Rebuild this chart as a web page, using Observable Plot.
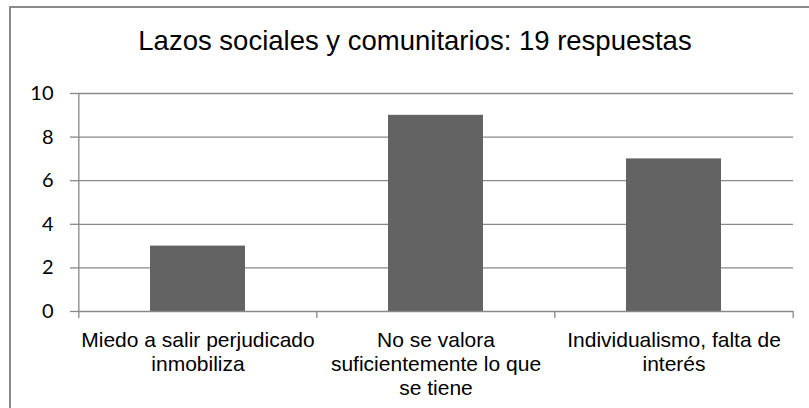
<!DOCTYPE html>
<html>
<head>
<meta charset="utf-8">
<script src="https://cdn.jsdelivr.net/npm/d3@7"></script>
<script src="https://cdn.jsdelivr.net/npm/@observablehq/plot@0.6"></script>
<style>
  body { margin: 0; background: #fff; }
  #wrap { position: relative; width: 809px; height: 408px; overflow: hidden; background: #fff; }
  #chart { position: absolute; left: 0; top: 0; }
  #border { position: absolute; left: 9px; top: 6px; width: 830px; height: 430px; box-sizing: border-box;
            border-left: 2px solid #8a8a8a; border-top: 2px solid #8a8a8a; pointer-events: none; }
  #title { position: absolute; left: 15px; width: 800px; top: 27px; text-align: center; line-height: 1;
           font-family: "Liberation Sans", Arial, sans-serif; font-size: 27.5px; color: #000; white-space: nowrap; }
</style>
</head>
<body>
<div id="wrap">
  <div id="chart"></div>
  <div id="border"></div>
  <div id="title"></div>
</div>
<script>
const title = "Lazos sociales y comunitarios: 19 respuestas";
const categories = [
  "Miedo a salir perjudicado inmobiliza",
  "No se valora suficientemente lo que se tiene",
  "Individualismo, falta de interés"
];
const tickLabels = [
  "Miedo a salir perjudicado\ninmobiliza",
  "No se valora\nsuficientemente lo que\nse tiene",
  "Individualismo, falta de\ninterés"
];
const values = [3, 9, 7];
const yTicks = [0, 2, 4, 6, 8, 10];

const data = categories.map((c, i) => ({category: c, value: values[i]}));

const W = 809, H = 408, mL = 78, mR = 16, mT = 93, mB = 97;
const step = (W - mL - mR) / categories.length;
const grid = "#888888";

document.getElementById("title").textContent = title;

const plot = Plot.plot({
  width: W,
  height: H,
  marginLeft: mL,
  marginRight: mR,
  marginTop: mT,
  marginBottom: mB,
  style: {background: "transparent", color: "#000", overflow: "visible"},
  x: {domain: categories, paddingInner: 0.6, paddingOuter: 0.3, axis: null, label: null},
  y: {domain: [0, 10], axis: null, label: null},
  marks: [
    Plot.gridY(yTicks.slice(1), {stroke: grid, strokeOpacity: 1, strokeWidth: 1.3}),
    Plot.axisY(yTicks, {label: null, tickSize: 8, tickPadding: 17, stroke: grid, strokeOpacity: 1, strokeWidth: 1.3,
      fontSize: 20, fontFamily: "Lato, 'Open Sans', sans-serif", fill: "#000"}),
    Plot.barY(data, {x: "category", y: "value", fill: "#636363"}),
    Plot.ruleY([0], {stroke: grid, strokeWidth: 1.3}),
    Plot.ruleX([categories[0]], {y1: 0, y2: 10, dx: -step / 2, stroke: grid, strokeWidth: 1.3}),
    Plot.axisX(categories, {label: null, tickSize: 7, tickFormat: () => "", dx: -step / 2, stroke: grid, strokeWidth: 1.3}),
    Plot.axisX([categories[categories.length - 1]], {label: null, tickSize: 7, tickFormat: () => "", dx: step / 2, stroke: grid, strokeWidth: 1.3}),
    Plot.axisX(categories, {label: null, tickSize: 0, tickPadding: 18,
      tickFormat: (d) => tickLabels[categories.indexOf(d)],
      fontSize: 21, fontFamily: "'Liberation Sans', Arial, sans-serif", lineHeight: 24 / 21, fill: "#000"})
  ]
});
document.getElementById("chart").appendChild(plot);
</script>
</body>
</html>
